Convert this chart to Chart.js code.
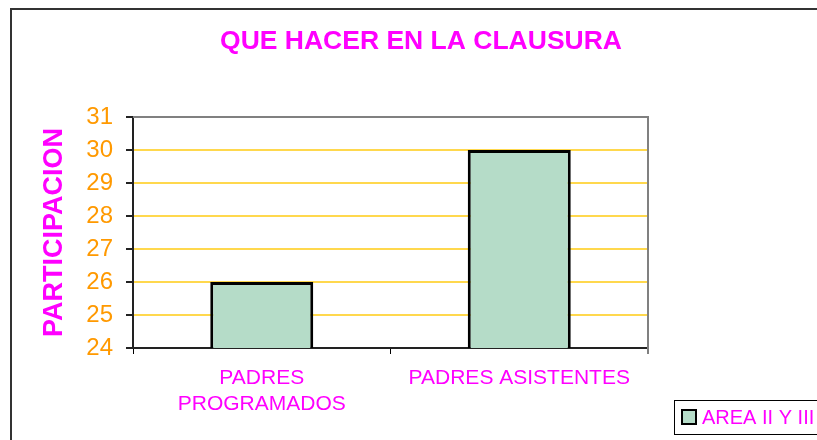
<!DOCTYPE html>
<html>
<head>
<meta charset="utf-8">
<script src="https://cdn.jsdelivr.net/npm/chart.js@4/dist/chart.umd.min.js"></script>
<style>
  html, body { margin: 0; padding: 0; background: #fff; }
  #wrap { width: 817px; height: 440px; position: relative; }
</style>
</head>
<body>
<div id="wrap"><canvas id="chart"></canvas></div>
<script>
// datos del gráfico
const categorias = [['PADRES', 'PROGRAMADOS'], 'PADRES ASISTENTES'];
const valores = [26, 30];
const serieNombre = 'AREA II Y III';
const tituloTexto = 'QUE HACER EN LA CLAUSURA';
const ejeYTexto = 'PARTICIPACION';
const ejeYMin = 24;
const ejeYMax = 31;

const MAGENTA = '#FF00FF';
const NARANJA = '#FF9900';
const VERDE = '#B5DCC8';

// marco, título, borde del área y leyenda
const decoPlugin = {
    id: 'deco',
    afterDraw(chart) {
        const ctx = chart.ctx;
        const a = chart.chartArea;
        ctx.save();

        // marco exterior
        ctx.strokeStyle = '#333';
        ctx.lineWidth = 2;
        ctx.beginPath();
        ctx.moveTo(11, 440);
        ctx.lineTo(11, 9);
        ctx.lineTo(817, 9);
        ctx.stroke();

        // borde superior y derecho del área
        ctx.strokeStyle = '#808080';
        ctx.lineWidth = 2;
        ctx.beginPath();
        ctx.moveTo(a.left, a.top);
        ctx.lineTo(a.right, a.top);
        ctx.lineTo(a.right, a.bottom + 6);
        ctx.stroke();

        // título
        ctx.fillStyle = MAGENTA;
        ctx.font = 'bold 26.5px "Liberation Sans", Arial, sans-serif';
        ctx.textAlign = 'center';
        ctx.textBaseline = 'middle';
        ctx.fillText(tituloTexto, 421, 42);

        // leyenda
        ctx.strokeStyle = '#000';
        ctx.lineWidth = 1;
        ctx.strokeRect(674.5, 400.5, 200, 34);
        ctx.fillStyle = VERDE;
        ctx.fillRect(682, 410, 14, 14);
        ctx.lineWidth = 2;
        ctx.strokeRect(682, 410, 14, 14);
        ctx.fillStyle = MAGENTA;
        ctx.font = '20px "Liberation Sans", Arial, sans-serif';
        ctx.textAlign = 'left';
        ctx.fillText(chart.data.datasets[0].label, 702, 418);
        ctx.restore();
    }
};

new Chart(document.getElementById('chart'), {
    type: 'bar',
    data: {
        labels: categorias,
        datasets: [{
            label: serieNombre,
            data: valores,
            backgroundColor: VERDE,
            borderColor: '#000',
            borderWidth: 3,
            borderSkipped: false,
            barPercentage: 0.4,
            categoryPercentage: 1
        }]
    },
    options: {
        responsive: true,
        maintainAspectRatio: false,
        animation: false,
        layout: { padding: { top: 117, right: 169, left: 0, bottom: 0 } },
        plugins: {
            legend: { display: false },
            title: { display: false },
            tooltip: { enabled: false }
        },
        scales: {
            x: {
                afterFit(scale) { scale.height = 92; },
                grid: {
                    drawOnChartArea: false,
                    tickLength: 6,
                    color: '#000',
                    lineWidth: 1
                },
                border: { color: '#222', width: 2 },
                ticks: {
                    color: MAGENTA,
                    padding: 11,
                    autoSkip: false,
                    maxRotation: 0,
                    font: { family: '"Liberation Sans", Arial, sans-serif', size: 21, lineHeight: 1.25 }
                }
            },
            y: {
                min: ejeYMin,
                max: ejeYMax,
                afterFit(scale) { scale.width = 133; },
                grid: {
                    color: '#FFD84D',
                    lineWidth: 2,
                    tickColor: '#222',
                    tickLength: 7
                },
                border: { color: '#222', width: 2 },
                ticks: {
                    stepSize: 1,
                    color: NARANJA,
                    padding: 13,
                    font: { family: '"Liberation Sans", Arial, sans-serif', size: 24 }
                },
                title: {
                    display: true,
                    text: ejeYTexto,
                    color: MAGENTA,
                    padding: { top: 38, bottom: 0 },
                    font: { family: '"Liberation Sans", Arial, sans-serif', size: 27, weight: 'bold' }
                }
            }
        }
    },
    plugins: [decoPlugin]
});
</script>
</body>
</html>
